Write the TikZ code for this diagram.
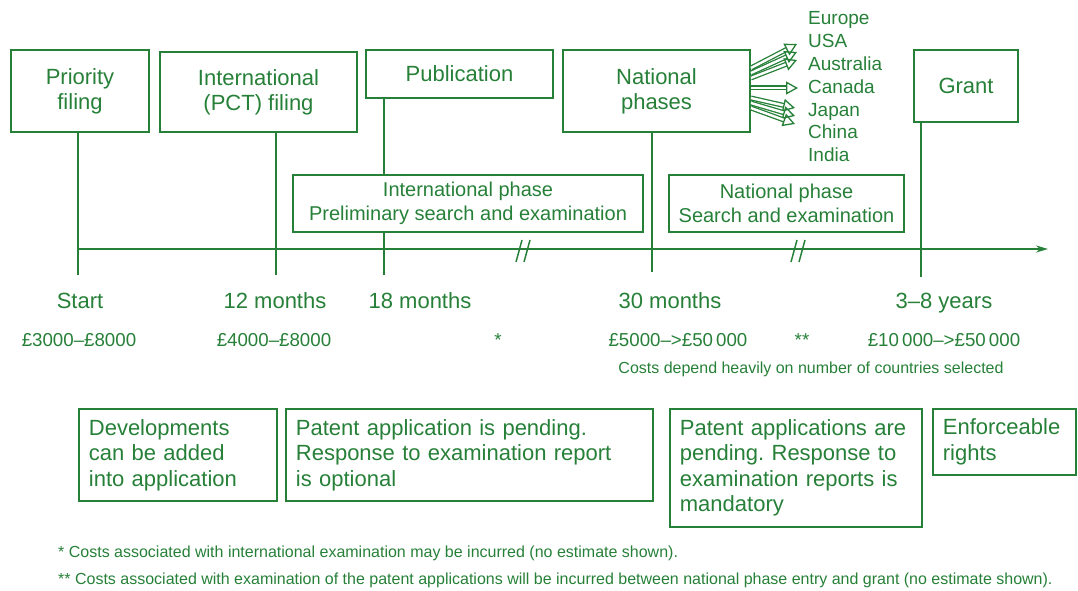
\documentclass[tikz,border=0pt]{standalone}
\usepackage{fontspec}
\setmainfont{Liberation Sans}
\usepackage{xcolor}
\usetikzlibrary{positioning, calc, arrows.meta}
\definecolor{patgreen}{RGB}{38,128,56}
\frenchspacing
\tikzset{
    stage/.style={
        draw=patgreen,
        line width=1.8pt,
        text=patgreen,
        align=center,
        inner sep=0pt,
        font=\fontsize{22}{25}\selectfont,
    },
    phase/.style={
        draw=patgreen,
        line width=1.8pt,
        text=patgreen,
        align=center,
        inner sep=0pt,
        font=\fontsize{20}{24}\selectfont,
    },
    note/.style={
        draw=patgreen,
        line width=1.8pt,
        text=patgreen,
        align=left,
        anchor=north west,
        inner xsep=10pt,
        inner ysep=0pt,
        font=\fontsize{22}{25.5}\selectfont,
    },
    when/.style={text=patgreen, anchor=base, font=\fontsize{22}{25}\selectfont},
    cost/.style={text=patgreen, anchor=base, font=\fontsize{18.7}{22}\selectfont},
    country/.style={text=patgreen, anchor=base west, inner sep=0pt, font=\fontsize{19}{22}\selectfont},
    small/.style={text=patgreen, font=\fontsize{16}{19}\selectfont},
    stem/.style={draw=patgreen, line width=1.8pt},
    fanarrow/.style={
        draw=patgreen,
        line width=1.3pt,
        double=white,
        double distance=2.4pt,
        -{Triangle[open, length=12pt, width=13pt]},
    },
}
\begin{document}
\begin{tikzpicture}[x=1pt, y=-1pt]
      \useasboundingbox (0,0) rectangle (1078,591);

      % milestones
      \node [stage, minimum width=138pt, minimum height=82pt] (prio) at (80,91) {Priority\\filing};
      \node [stage, minimum width=197pt, minimum height=80pt] (pct) at (258.5,92) {International\\(PCT) filing};
      \node [stage, minimum width=187pt, minimum height=48pt] (pub) at (459.5,74) {Publication};
      \node [stage, minimum width=187pt, minimum height=82pt] (natl) at (656.5,91) {National\\phases};
      \node [stage, minimum width=104pt, minimum height=72pt] (grant) at (966,86) {Grant};

      \node [phase, minimum width=350pt, minimum height=57pt] (iph) at (468,203.5) {International phase\\Preliminary search and examination};
      \node [phase, minimum width=235pt, minimum height=57pt] (nph) at (786.5,203.5) {National phase\\Search and examination};

      % time axis
      \coordinate (axisstart) at (78,249);
      \coordinate (axisend) at (1048,249);
      \coordinate (t0) at (78,275);
      \coordinate (t1) at (276,275);
      \coordinate (t2) at (384,275);
      \coordinate (t3) at (652,272);
      \coordinate (t4) at (921,277);
      \draw[stem, -{Stealth[length=12pt, width=7pt]}] (axisstart) -- (axisend);
      \draw[stem] (t0 |- prio.south) -- (t0);
      \draw[stem] (t1 |- pct.south) -- (t1);
      \draw[stem] (t2 |- pub.south) -- (t2 |- iph.north);
      \draw[stem] (t2 |- iph.south) -- (t2);
      \draw[stem] (t3 |- natl.south) -- (t3);
      \draw[stem] (t4 |- grant.south) -- (t4);

      \coordinate (brk1) at (523,251);
      \coordinate (brk2) at (798,251);
      \foreach \b in {brk1, brk2} {
        \draw[stem, line width=1.5pt] ($(\b)+(-7,11)$) -- ($(\b)+(-1,-11)$);
        \draw[stem, line width=1.5pt] ($(\b)+(1,11)$) -- ($(\b)+(7,-11)$);
      }

      % countries
      \foreach \name [count=\i] in {Europe, USA, Australia, Canada, Japan, China, India}
        \node [country] (c\i) at (808,{25+22.8*(\i-1)}) {\name};
      \foreach \sy/\ex/\ey [count=\i] in {68/797/44, 73/797/52, 78/797/60, 88/798/88, 98/795/108, 103/795/116, 108/795/124} {
        \coordinate (fan\i) at (\ex,\ey);
        \draw[fanarrow] (natl.east |- 0,\sy) -- (fan\i);
      }

      % times and costs
      \node [when] (start) at (80,308) {Start};
      \node [when] (m12) at (275,308) {12 months};
      \node [when] (m18) at (420,308) {18 months};
      \node [when] (m30) at (670,308) {30 months};
      \node [when] (y38) at (944,308) {3--8 years};
      \node [cost] (cost0) at (79,346) {£3000--£8000};
      \node [cost] (cost1) at (274,346) {£4000--£8000};
      \node [cost] (star1) at (498,346) {*};
      \node [cost] (cost3) at (678,346) {£5000--\textgreater £50\,000};
      \node [cost] (star2) at (802,346) {**};
      \node [cost] (cost4) at (944,346) {£10\,000--\textgreater £50\,000};
      \node [small] (depend) at (811,369) {Costs depend heavily on number of countries selected};

      % what happens
      \node [note, minimum width=198pt, minimum height=92pt, text width=178pt] (devel) at (78,408) {Developments\\can be added\\into application};
      \node [note, minimum width=367pt, minimum height=92pt, text width=347pt] (pend) at (285,408) {Patent application is pending.\\Response to examination report\\is optional};
      \node [note, minimum width=252pt, minimum height=118pt, text width=232pt] (mand) at (669,408) {Patent applications are\\pending. Response to\\examination reports is\\mandatory};
      \node [note, minimum width=143pt, minimum height=66pt, text width=123pt] (rights) at (932,408) {Enforceable\\rights};

      % footnotes
      \node [small, anchor=west, inner sep=0pt] (fn1) at (58,553) {* Costs associated with international examination may be incurred (no estimate shown).};
      \node [small, anchor=west, inner sep=0pt] (fn2) at (58,580) {** Costs associated with examination of the patent applications will be incurred between national phase entry and grant (no estimate shown).};
    \end{tikzpicture}
\end{document}
